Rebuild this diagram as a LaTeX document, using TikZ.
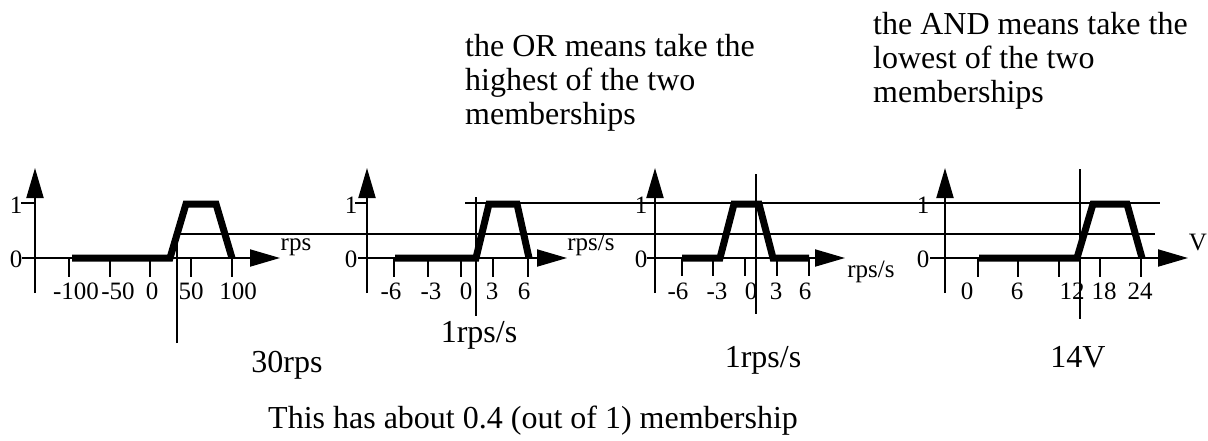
\documentclass[tikz,border=0pt]{standalone}
\usepackage{fontspec}
\setmainfont{Liberation Serif}
\usetikzlibrary{arrows.meta}
\begin{document}
\begin{tikzpicture}[x=1pt,y=-1pt,
  axis/.style={line width=2pt,-{Triangle[length=30pt,width=17pt]}},
  guide/.style={line width=2pt},
  tickline/.style={line width=2pt},
  memb/.style={line width=7pt,line join=miter},
  big/.style={font=\fontsize{32}{34}\selectfont,inner sep=0pt,anchor=base},
  bigl/.style={font=\fontsize{32}{34}\selectfont,inner sep=0pt,anchor=base west},
  small/.style={font=\fontsize{25}{28}\selectfont,inner sep=0pt,anchor=base}]
\useasboundingbox (0,0) rectangle (1208,440);

% guide lines
\draw[guide] (177,343) -- (177,234) -- (1155,234);
\draw[guide] (465,203) -- (1160,203);
\draw[guide] (476,197) -- (476,316);
\draw[guide] (756,174) -- (756,314);
\draw[guide] (1080,169) -- (1080,319);

% panel 1
\draw[axis] (22,258) -- (280,258);
\draw[axis] (35,293) -- (35,168);
\draw[tickline] (21,203) -- (35,203);
\foreach \x in {69,110,150,191,232} \draw[tickline] (\x,258) -- (\x,277);
\draw[memb] (72,258) -- (170,258) -- (186,204) -- (216,204) -- (232,258);
\node[small] (a0) at (16,267) {0};
\node[small] (a1) at (16,213) {1};
\node[small] (at1) at (76,299) {-100};
\node[small] (at2) at (118,299) {-50};
\node[small] (at3) at (152,299) {0};
\node[small] (at4) at (191,299) {50};
\node[small] (at5) at (238,299) {100};
\node[small] (au) at (296,250) {rps};

% panel 2
\draw[axis] (358,258) -- (567,258);
\draw[axis] (367,293) -- (367,168);
\draw[tickline] (355,203) -- (367,203);
\foreach \x in {394,428,461,493,528} \draw[tickline] (\x,258) -- (\x,277);
\draw[memb] (395,258) -- (476,258) -- (489,204) -- (517,204) -- (529,258);
\node[small] (b0) at (351,267) {0};
\node[small] (b1) at (351,213) {1};
\node[small] (bt1) at (391,299) {-6};
\node[small] (bt2) at (431,299) {-3};
\node[small] (bt3) at (466,299) {0};
\node[small] (bt4) at (492,299) {3};
\node[small] (bt5) at (524,299) {6};
\node[small] (bu) at (591,250) {rps/s};

% panel 3
\draw[axis] (647,258) -- (845,258);
\draw[axis] (655,293) -- (655,168);
\draw[tickline] (645,203) -- (655,203);
\foreach \x in {682,713,745,777,809} \draw[tickline] (\x,258) -- (\x,276);
\draw[memb] (682,258) -- (720,258) -- (734,204) -- (759,204) -- (773,258) -- (809,258);
\node[small] (c0) at (641,267) {0};
\node[small] (c1) at (641,213) {1};
\node[small] (ct1) at (678,299) {-6};
\node[small] (ct2) at (717,299) {-3};
\node[small] (ct3) at (751,299) {0};
\node[small] (ct4) at (776,299) {3};
\node[small] (ct5) at (805,299) {6};
\node[small] (cu) at (871,277) {rps/s};

% panel 4
\draw[axis] (930,258) -- (1188,258);
\draw[axis] (945,293) -- (945,168);
\draw[tickline] (930,203) -- (945,203);
\foreach \x in {978,1018,1059,1100,1141} \draw[tickline] (\x,258) -- (\x,277);
\draw[memb] (979,258) -- (1077,258) -- (1093,204) -- (1127,204) -- (1142,258);
\node[small] (d0) at (923,267) {0};
\node[small] (d1) at (923,213) {1};
\node[small] (dt1) at (967,299) {0};
\node[small] (dt2) at (1017,299) {6};
\node[small] (dt3) at (1072,299) {12};
\node[small] (dt4) at (1104,299) {18};
\node[small] (dt5) at (1140,299) {24};
\node[small] (du) at (1198,250) {V};

% texts
\node[bigl] (or1) at (465,56) {the OR means take the};
\node[bigl] (or2) at (465,90) {highest of the two};
\node[bigl] (or3) at (465,124) {memberships};
\node[bigl] (and1) at (873,34) {the AND means take the};
\node[bigl] (and2) at (873,68) {lowest of the two};
\node[bigl] (and3) at (873,102) {memberships};

\node[big] (v1) at (287,372) {30rps};
\node[big] (v2) at (479,342) {1rps/s};
\node[big] (v3) at (763,367) {1rps/s};
\node[big] (v4) at (1078,367) {14V};
\node[bigl] (note) at (268,428) {This has about 0.4 (out of 1) membership};
\end{tikzpicture}
\end{document}
